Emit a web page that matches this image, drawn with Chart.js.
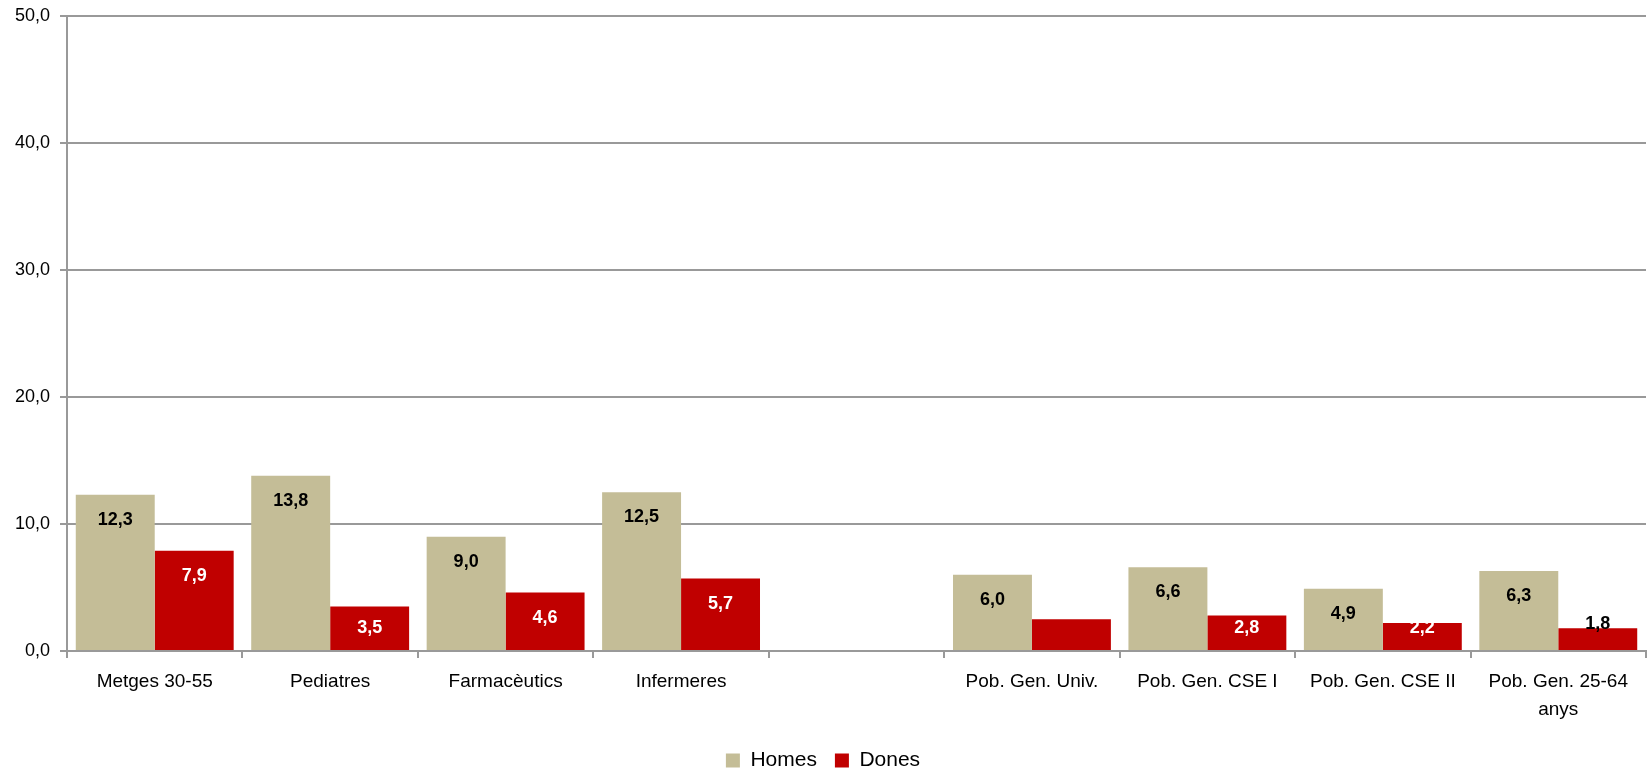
<!DOCTYPE html>
<html>
<head>
<meta charset="utf-8">
<script src="https://cdn.jsdelivr.net/npm/chart.js@4/dist/chart.umd.min.js"></script>
<style>
  html, body { margin: 0; padding: 0; background: #fff; }
  #wrap { width: 1648px; height: 772px; }
</style>
</head>
<body>
<div id="wrap"><canvas id="chart"></canvas></div>
<script>
// data
const categories = ['Metges 30-55', 'Pediatres', 'Farmacèutics', 'Infermeres', '',
  'Pob. Gen. Univ.', 'Pob. Gen. CSE I', 'Pob. Gen. CSE II', ['Pob. Gen. 25-64', 'anys']]
const homes = [12.3, 13.8, 9.0, 12.5, null, 6.0, 6.6, 4.9, 6.3]
const dones = [7.9, 3.5, 4.6, 5.7, null, 2.5, 2.8, 2.2, 1.8]
const yTicks = [0, 10, 20, 30, 40, 50]

const FONT = "'Liberation Sans', Arial, sans-serif"
const fmt = v => v.toFixed(1).replace('.', ',')

/*=============== VALUE LABELS ===============*/
const valueLabels = {
  id: 'valueLabels',
  afterDatasetsDraw(chart){
    const ctx = chart.ctx
    const base = chart.scales.y.getPixelForValue(0)
    ctx.save()
    ctx.font = 'bold 18px ' + FONT
    ctx.textAlign = 'center'
    ctx.textBaseline = 'middle'
    chart.data.datasets.forEach((ds, d) => {
      chart.getDatasetMeta(d).data.forEach((bar, i) => {
        const v = ds.data[i]
        if(v == null) return
        if(d === 1 && i === 5) return // label hidden under the axis in the source
        let y = Math.min(bar.y + 25, base - 23)
        let color = d === 0 ? '#000' : '#fff'
        if(d === 1 && v < 2){ color = '#000'; y = bar.y - 4 }
        ctx.fillStyle = color
        ctx.fillText(fmt(v), bar.x, y)
      })
    })
    ctx.restore()
  }
}

const ctx = document.getElementById('chart').getContext('2d')
new Chart(ctx, {
  type: 'bar',
  data: {
    labels: categories,
    datasets: [{
      label: 'Homes',
      data: homes,
      backgroundColor: '#C4BD97',
      borderWidth: 0,
      categoryPercentage: 0.9,
      barPercentage: 1.0
    }, {
      label: 'Dones',
      data: dones,
      backgroundColor: '#C00000',
      borderWidth: 0,
      categoryPercentage: 0.9,
      barPercentage: 1.0
    }]
  },
  options: {
    responsive: true,
    maintainAspectRatio: false,
    animation: false,
    layout: { padding: { top: 0, right: 2, left: 0, bottom: -9 } },
    plugins: {
      legend: {
        position: 'bottom',
        labels: {
          font: { family: FONT, size: 21 },
          color: '#000',
          boxWidth: 14,
          boxHeight: 14,
          padding: 18
        }
      },
      tooltip: { enabled: false }
    },
    scales: {
      x: {
        grid: {
          drawOnChartArea: false,
          drawTicks: true,
          tickLength: 7,
          color: '#999',
          lineWidth: 2
        },
        border: { color: '#999', width: 2 },
        ticks: {
          font: { family: FONT, size: 19, lineHeight: 1.45 },
          color: '#000',
          maxRotation: 0,
          autoSkip: false,
          padding: 10
        },
        afterFit: s => { s.height = 81 }
      },
      y: {
        min: 0,
        max: 50,
        afterBuildTicks: s => { s.ticks = yTicks.map(v => ({ value: v })) },
        grid: {
          color: '#999',
          lineWidth: 2,
          tickLength: 7
        },
        border: { color: '#999', width: 2 },
        ticks: {
          font: { family: FONT, size: 18 },
          color: '#000',
          padding: 10,
          callback: v => fmt(v)
        },
        afterFit: s => { s.width = 67; s.paddingTop = 16 }
      }
    }
  },
  plugins: [valueLabels]
})
</script>
</body>
</html>
